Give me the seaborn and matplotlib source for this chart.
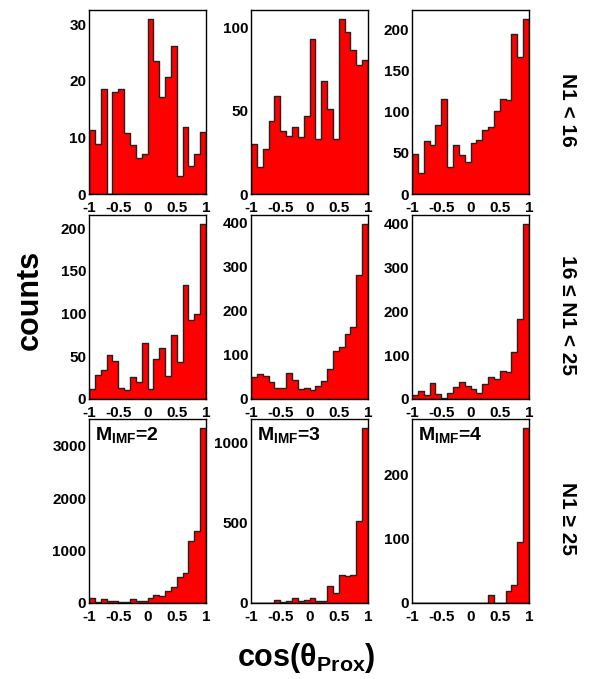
import matplotlib
matplotlib.use("Agg")
import matplotlib.pyplot as plt
import pandas as pd
import seaborn as sns
from matplotlib.ticker import MultipleLocator

# 20 bins of cos(theta_Prox) between -1 and 1
BIN_EDGES = [round(-1.0 + 0.1 * i, 2) for i in range(21)]
BIN_CENTERS = [round(-0.95 + 0.1 * i, 3) for i in range(20)]

XTICKS = [-1, -0.5, 0, 0.5, 1]
XTICK_LABELS = ["-1", "-0.5", "0", "0.5", "1"]

ROW_LABELS = ["N1 < 16", "16 \u2264 N1 < 25", "N1 \u2265 25"]
MIMF_LABELS = ["2", "3", "4"]

# counts per bin, rows = N1 class, columns = M_IMF
N1_LT16_M2 = [11.4, 8.9, 18.5, 0, 18.1, 18.5, 10.8, 8.6, 6.4, 7.1,
              31, 23.5, 17.2, 20.7, 26.1, 3.2, 11.8, 4.9, 7, 10.9]
N1_LT16_M3 = [30, 16, 27, 44, 59, 38, 35, 40, 34, 47,
              93, 33, 68, 51, 33, 105, 97, 86, 77, 80]
N1_LT16_M4 = [49, 25, 65, 60, 84, 115, 33, 60, 48, 39,
              62, 66, 78, 82, 101, 116, 114, 195, 166, 213]
N1_MID_M2 = [12, 28, 33.5, 52, 45, 13, 10, 26, 20, 65,
             11.5, 46.5, 60, 26.5, 74.5, 43, 133, 92, 99, 205]
N1_MID_M3 = [50.5, 56, 53, 39, 24, 26, 59, 42, 23, 26,
             21, 29, 41, 67, 109, 118, 147, 164, 281, 397]
N1_MID_M4 = [9, 19, 9, 36, 11.5, 2, 14, 28, 38, 29,
             22, 13, 35, 51, 46, 65, 61, 108, 183, 400]
N1_GE25_M2 = [90, 10, 70, 40, 30, 20, 25, 70, 40, 40,
              95, 150, 140, 230, 310, 500, 580, 1180, 1370, 3340]
N1_GE25_M3 = [0, 0, 0, 0, 17, 5, 12, 31, 15, 19,
              33, 10, 10, 104, 65, 175, 165, 175, 510, 1090]
N1_GE25_M4 = [0, 0, 0, 0, 0, 0, 0, 0, 0, 0,
              0, 0, 0, 13, 0, 0, 19, 28, 95, 272]

Y_MAJOR = [[10, 50, 50], [50, 100, 100], [1000, 500, 100]]
Y_MINOR = [[2, 10, 10], [10, 20, 20], [200, 100, 20]]

# panel placement in pixels (figure is 593 x 679)
COL_LEFT = [89, 251, 412]
COL_WIDTH = 117
ROW_TOP = [10, 215, 419]
ROW_HEIGHT = 184
FIG_W, FIG_H = 593, 679


def draw_panel(ax, counts, major, minor):
    df = pd.DataFrame({"cos": BIN_CENTERS, "n": counts})
    sns.histplot(
        data=df,
        x="cos",
        weights="n",
        bins=BIN_EDGES,
        element="step",
        fill=True,
        color="#ff0000",
        alpha=1.0,
        edgecolor="#222222",
        linewidth=1.0,
        ax=ax,
    )
    ax.set_xlim(-1, 1)
    ax.set_ylim(0, 1.05 * max(counts))
    ax.set_xlabel("")
    ax.set_ylabel("")
    ax.set_xticks(XTICKS, XTICK_LABELS)
    ax.xaxis.set_minor_locator(MultipleLocator(0.1))
    ax.yaxis.set_major_locator(MultipleLocator(major))
    ax.yaxis.set_minor_locator(MultipleLocator(minor))
    ax.tick_params(axis="both", which="both", direction="in", colors="black",
                   top=False, right=False, labelsize=11)
    ax.tick_params(axis="x", which="both", pad=5)
    ax.tick_params(axis="y", which="both", pad=2)
    ax.tick_params(axis="both", which="major", length=5, width=0.8)
    ax.tick_params(axis="both", which="minor", length=2.5, width=0.8)
    for spine in ax.spines.values():
        spine.set_visible(True)
        spine.set_color("black")
        spine.set_linewidth(1.0)


def main():
    sns.set_theme(style="white")
    plt.rcParams["font.family"] = ["Liberation Sans", "DejaVu Sans"]
    plt.rcParams["font.weight"] = "bold"
    plt.rcParams["text.color"] = "black"
    plt.rcParams["mathtext.fontset"] = "custom"
    plt.rcParams["mathtext.rm"] = "Liberation Sans:bold"
    plt.rcParams["mathtext.bf"] = "Liberation Sans:bold"
    plt.rcParams["mathtext.it"] = "Liberation Sans:bold"

    grid = [
        [N1_LT16_M2, N1_LT16_M3, N1_LT16_M4],
        [N1_MID_M2, N1_MID_M3, N1_MID_M4],
        [N1_GE25_M2, N1_GE25_M3, N1_GE25_M4],
    ]

    fig = plt.figure(figsize=(FIG_W / 100, FIG_H / 100), dpi=100)
    fig.patch.set_facecolor("white")

    for r in range(3):
        for c in range(3):
            left = COL_LEFT[c] / FIG_W
            bottom = 1 - (ROW_TOP[r] + ROW_HEIGHT) / FIG_H
            ax = fig.add_axes([left, bottom, COL_WIDTH / FIG_W, ROW_HEIGHT / FIG_H])
            draw_panel(ax, grid[r][c], Y_MAJOR[r][c], Y_MINOR[r][c])
            if r == 2:
                ax.text(0.055, 0.965, r"M$_{\mathbf{IMF}}$=" + MIMF_LABELS[c],
                        transform=ax.transAxes, ha="left", va="top",
                        fontsize=14, fontweight="bold", color="black")

    for r, label in enumerate(ROW_LABELS):
        yc = 1 - (ROW_TOP[r] + ROW_HEIGHT / 2 + 8) / FIG_H
        fig.text(567 / FIG_W, yc, label, rotation=-90, ha="center", va="center",
                 fontsize=15, fontweight="bold", color="black")

    fig.text(30 / FIG_W, 1 - 300 / FIG_H, "counts", rotation=90,
             ha="center", va="center", fontsize=22, fontweight="bold", color="black")
    fig.text(306 / FIG_W, 1 - 658 / FIG_H, r"cos(θ$_{\mathbf{Prox}}$)",
             ha="center", va="center", fontsize=22, fontweight="bold", color="black")

    fig.savefig("out.png", dpi=100, facecolor="white")
    plt.close(fig)


if __name__ == "__main__":
    main()
